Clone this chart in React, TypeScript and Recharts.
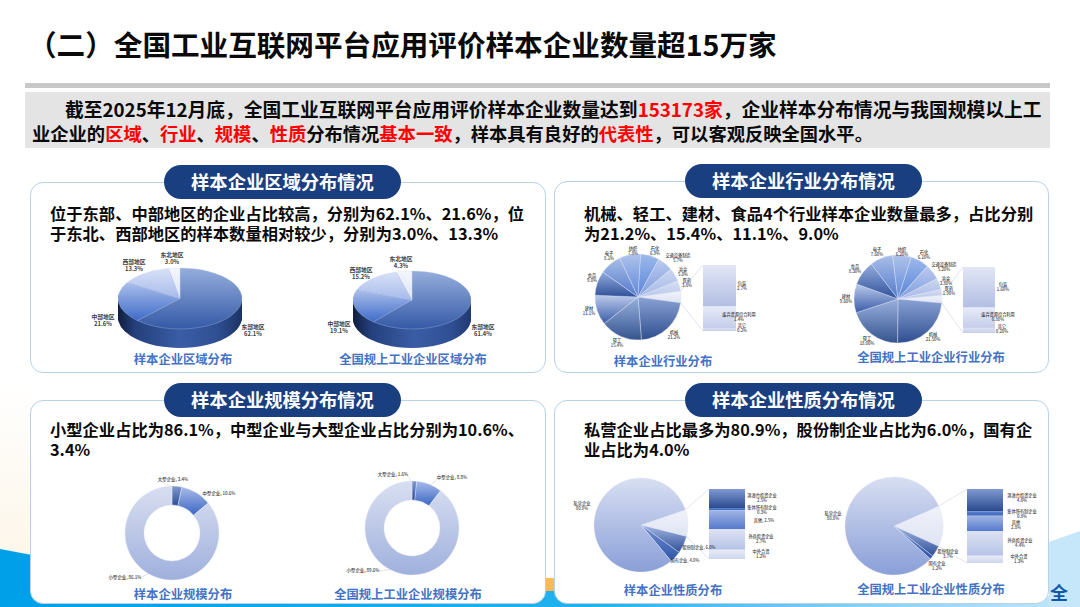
import React from "react";
import { PieChart, Pie, Cell, BarChart, Bar, XAxis, YAxis } from "recharts";

// region cards
const regionNames = ["东部地区", "中部地区", "西部地区", "东北地区"];
const regionSample = [62.1, 21.6, 13.3, 3.0];
const regionNational = [61.4, 19.1, 15.2, 4.3];

// industry cards: the first slice of the pie is broken out into the column
const industryNames = ["机械", "轻工", "建材", "食品", "电子", "纺织", "石化", "交通设备制造", "冶金", "医药"];
const industrySample = [21.2, 15.4, 11.1, 9.0, 8.1, 7.8, 6.9, 5.7, 5.0, 3.8];
const industryNational = [21.5, 18.0, 9.6, 8.3, 7.6, 6.2, 6.1, 5.2, 3.8, 1.9];
const industryRestNames = ["包装", "废弃资源综合利用", "其它"];
const industryRestSample = [2.7, 1.4, 0.2];
const industryRestNational = [1.6, 0.8, 0.2];

// scale cards
const scaleNames = ["大型企业", "中型企业", "小型企业"];
const scaleSample = [3.4, 10.6, 86.1];
const scaleNational = [1.6, 8.8, 89.6];

// ownership cards
const ownerNames = ["股份制企业", "国有企业", "私营企业"];
const ownerSample = [6.0, 4.0, 80.9];
const ownerNational = [3.7, 1.2, 80.8];
const ownerRestNames = ["港澳台投资企业", "集体所有制企业", "其他", "外商投资企业", "中外合资"];
const ownerRestSample = [2.5, 0.3, 2.5, 2.7, 1.2];
const ownerRestNational = [4.0, 0.8, 2.8, 4.4, 1.3];

const FONT = '"Noto Sans CJK SC", "Noto Sans", sans-serif';

const GRADIENTS: [string, string, string][] = [
  ["r0", "#96aedd", "#3459a6"],
  ["r1", "#aabfeb", "#3f6bc8"],
  ["r2", "#d8e1f6", "#a6baeb"],
  ["r3", "#f3f6fd", "#dde5f7"],
  ["i0", "#8aa2d4", "#2f4e90"],
  ["i1", "#9ab1de", "#34548f"],
  ["i2", "#bccbeb", "#3a5ca8"],
  ["i3", "#94acdc", "#2f509a"],
  ["i4", "#a9bee8", "#5179cc"],
  ["i5", "#aec2ea", "#5f87d8"],
  ["i6", "#9db9ec", "#5683d8"],
  ["i7", "#bac9ee", "#809ddf"],
  ["i8", "#ccd6f0", "#a5b8e7"],
  ["i9", "#d6def3", "#b9c7eb"],
  ["other", "#f0f2fa", "#dfe4f3"],
  ["c0", "#e2e6f5", "#b2bee3"],
  ["c1", "#e8ebf7", "#c3cdea"],
  ["c2", "#dde2f3", "#c5cfe9"],
  ["d0", "#8299cf", "#2a4c96"],
  ["d1", "#a8bbe8", "#3c67c4"],
  ["d2", "#d9dff1", "#9fb0dd"],
  ["o0", "#a3b6e2", "#2f4f96"],
  ["o1", "#7390d3", "#2c55a8"],
  ["o2", "#d8dff2", "#8a9fd8"],
  ["n0", "#7f9ad2", "#2a4a8e"],
  ["n1", "#5d83d2", "#3d64b8"],
  ["n2", "#a1b6e5", "#5478cc"],
  ["n3", "#dde2f3", "#b6c3e8"],
  ["n4", "#e8ebf6", "#cdd6ee"],
];
const REGION_FILLS = ["r0", "r1", "r2", "r3"];
const INDUSTRY_FILLS = ["other", "i0", "i1", "i2", "i3", "i4", "i5", "i6", "i7", "i8", "i9"];
const INDUSTRY_COL_FILLS = ["c0", "c1", "c2"];
const SCALE_FILLS = ["d0", "d1", "d2"];
const OWNER_FILLS = ["other", "o0", "o1", "o2"];
const OWNER_COL_FILLS = ["n0", "n1", "n2", "n3", "n4"];

type Spot = [number, number];

const rows = (names: string[], values: number[]) => names.map((name, i) => ({ name, value: values[i] }));
const sum = (a: number[]) => a.reduce((s, v) => s + v, 0);

const Defs = () => (
  <svg width={0} height={0} style={{ position: "absolute" }}>
    <defs>
      {GRADIENTS.map(([id, a, b]) => (
        <linearGradient key={id} id={id} x1="0" y1="0" x2="0" y2="1">
          <stop offset="0%" stopColor={a} />
          <stop offset="100%" stopColor={b} />
        </linearGradient>
      ))}
      <linearGradient id="wall" gradientUnits="userSpaceOnUse" x1={6} y1={0} x2={130} y2={0}>
        <stop offset="0%" stopColor="#101e3e" />
        <stop offset="14%" stopColor="#24407c" />
        <stop offset="50%" stopColor="#3a5da6" />
        <stop offset="80%" stopColor="#2f4f92" />
        <stop offset="100%" stopColor="#1c3264" />
      </linearGradient>
    </defs>
  </svg>
);

// tiny category labels, placed by page coordinates
const Labels = ({ names, values, spots, digits = 1, size = 4.6, inline = [], bold = false }: {
  names: string[]; values: number[]; spots: Spot[]; digits?: number; size?: number; inline?: number[]; bold?: boolean;
}) => (
  <>
    {names.map((n, i) => (
      <div
        key={n}
        style={{
          position: "absolute",
          left: spots[i][0],
          top: spots[i][1],
          transform: "translate(-50%, -50%)",
          fontSize: size,
          lineHeight: 1.25,
          textAlign: "center",
          whiteSpace: "nowrap",
          color: "#404040",
          fontWeight: bold ? 700 : 500,
        }}
      >
        {inline.includes(i) ? `${n}, ${values[i].toFixed(digits)}%` : <>{n}<br />{values[i].toFixed(digits)}%</>}
      </div>
    ))}
  </>
);

const Pie3D = ({ values, cx, cy, rx, ry, depth }: { values: number[]; cx: number; cy: number; rx: number; ry: number; depth: number }) => {
  const s = ry / rx;
  const pad = 6;
  const W = 2 * (rx + pad);
  const H = 2 * (rx + pad) + depth / s;
  const data = rows(regionNames, values);
  const layers = Array.from({ length: Math.ceil(depth) }, (_, i) => (depth - i) / s);
  return (
    <div style={{ position: "absolute", left: cx - rx - pad, top: cy - ry - pad * s, width: W, height: H, transform: `scaleY(${s})`, transformOrigin: "0 0" }}>
      <PieChart width={W} height={H} margin={{ top: 0, right: 0, bottom: 0, left: 0 }}>
        {layers.map((off) => (
          <Pie key={off} data={data} dataKey="value" cx={rx + pad} cy={rx + pad + off} outerRadius={rx} startAngle={90} endAngle={-270} stroke="none" fill="url(#wall)" isAnimationActive={false} />
        ))}
        <Pie data={data} dataKey="value" cx={rx + pad} cy={rx + pad} outerRadius={rx} startAngle={90} endAngle={-270} stroke="#c9d6ef" strokeWidth={0.4} isAnimationActive={false}>
          {REGION_FILLS.map((f) => (
            <Cell key={f} fill={`url(#${f})`} />
          ))}
        </Pie>
      </PieChart>
    </div>
  );
};

const Donut = ({ values, cx, cy, r, inner, spots }: { values: number[]; cx: number; cy: number; r: number; inner: number; spots: Spot[] }) => {
  const data = rows(scaleNames, values);
  const W = 2 * r + 4;
  const total = sum(values);
  let acc = 0;
  const mids = values.map((v) => {
    const m = acc + v / 2;
    acc += v;
    return (m / total) * 2 * Math.PI;
  });
  return (
    <>
      <svg width={1080} height={607} style={{ position: "absolute", left: 0, top: 0 }}>
        {mids.map((a, i) => (
          <line key={i} x1={cx + Math.sin(a) * (r - 4)} y1={cy - Math.cos(a) * (r - 4)} x2={spots[i][0] + (spots[i][0] > cx ? -14 : 14)} y2={spots[i][1]} stroke="#c4c8d4" strokeWidth={0.5} />
        ))}
      </svg>
      <div style={{ position: "absolute", left: cx - W / 2, top: cy - W / 2 }}>
        <PieChart width={W} height={W} margin={{ top: 0, right: 0, bottom: 0, left: 0 }}>
          <Pie data={data} dataKey="value" cx={W / 2} cy={W / 2} innerRadius={inner} outerRadius={r} startAngle={90} endAngle={-270} stroke="#e4e8f4" strokeWidth={0.4} isAnimationActive={false}>
            {SCALE_FILLS.map((f) => (
              <Cell key={f} fill={`url(#${f})`} />
            ))}
          </Pie>
        </PieChart>
      </div>
    </>
  );
};

// pie with its first slice broken out into a stacked column
const PieOfPie = ({ names, values, restValues, fills, colFills, start, cx, cy, r, col }: {
  names: string[]; values: number[]; restValues: number[]; fills: string[]; colFills: string[];
  start: number; cx: number; cy: number; r: number; col: { x: number; y: number; w: number; h: number };
}) => {
  const rest = sum(restValues);
  const data = [{ name: "其他", value: rest }, ...rows(names, values)];
  const total = rest + sum(values);
  const W = 2 * r + 4;
  const a0 = (start * Math.PI) / 180;
  const a1 = ((start - (rest / total) * 360) * Math.PI) / 180;
  const stack = [Object.fromEntries(restValues.map((v, i) => [`s${i}`, v]))];
  return (
    <>
      <svg width={1080} height={607} style={{ position: "absolute", left: 0, top: 0 }}>
        <line x1={cx + Math.cos(a0) * r} y1={cy - Math.sin(a0) * r} x2={col.x} y2={col.y} stroke="#d4d8e6" strokeWidth={0.7} />
        <line x1={cx + Math.cos(a1) * r} y1={cy - Math.sin(a1) * r} x2={col.x} y2={col.y + col.h} stroke="#d4d8e6" strokeWidth={0.7} />
      </svg>
      <div style={{ position: "absolute", left: cx - W / 2, top: cy - W / 2 }}>
        <PieChart width={W} height={W} margin={{ top: 0, right: 0, bottom: 0, left: 0 }}>
          <Pie data={data} dataKey="value" cx={W / 2} cy={W / 2} outerRadius={r} startAngle={start} endAngle={start - 360} stroke="#dfe4f3" strokeWidth={0.4} isAnimationActive={false}>
            {fills.map((f) => (
              <Cell key={f} fill={`url(#${f})`} />
            ))}
          </Pie>
        </PieChart>
      </div>
      <div style={{ position: "absolute", left: col.x, top: col.y }}>
        <BarChart width={col.w} height={col.h} data={stack} margin={{ top: 0, right: 0, bottom: 0, left: 0 }} barCategoryGap={0}>
          <XAxis type="category" hide />
          <YAxis type="number" hide reversed domain={[0, rest]} />
          {restValues.map((_, i) => (
            <Bar key={i} dataKey={`s${i}`} stackId="rest" fill={`url(#${colFills[i]})`} isAnimationActive={false} />
          ))}
        </BarChart>
      </div>
    </>
  );
};

const Card = ({ x, y, w, h, pill, pillX }: { x: number; y: number; w: number; h: number; pill: string; pillX: number }) => (
  <>
    <div style={{ position: "absolute", left: x, top: y, width: w, height: h, boxSizing: "border-box", background: "#fff", border: "1.5px solid #b7d2e8", borderRadius: 13 }} />
    <div style={{ position: "absolute", left: pillX, top: y - 17, width: 237, height: 34, borderRadius: 17, background: "#1a3f80", color: "#fff", fontSize: 18.3, fontWeight: 700, lineHeight: "33px", textAlign: "center" }}>{pill}</div>
  </>
);

const Para = ({ x, y, lines, size = 16.3 }: { x: number; y: number; lines: string[]; size?: number }) => (
  <div style={{ position: "absolute", left: x, top: y, fontSize: size, fontWeight: 700, lineHeight: "19.5px", color: "#0a0a0a", whiteSpace: "nowrap" }}>
    {lines.map((l) => (
      <div key={l}>{l}</div>
    ))}
  </div>
);

const Caption = ({ cx, y, text }: { cx: number; y: number; text: string }) => (
  <div style={{ position: "absolute", left: cx, top: y, transform: "translate(-50%, -50%)", fontSize: 12.3, fontWeight: 700, color: "#4472c4", whiteSpace: "nowrap" }}>{text}</div>
);

const Red = ({ children }: { children: React.ReactNode }) => <span style={{ color: "#ff0000" }}>{children}</span>;

export default function App() {
  return (
    <div style={{ position: "absolute", left: 0, top: 0, width: 1080, height: 607, overflow: "hidden", background: "#fff", fontFamily: FONT }}>
      <Defs />
      {/* background decoration */}
      <svg width={1080} height={607} style={{ position: "absolute", left: 0, top: 0 }}>
        <defs>
          <linearGradient id="cream" x1="0" y1="0" x2="0" y2="1">
            <stop offset="0%" stopColor="#ffffff" />
            <stop offset="100%" stopColor="#fdf6ea" />
          </linearGradient>
          <linearGradient id="floor" x1="0" y1="0" x2="1" y2="0">
            <stop offset="0%" stopColor="#00a0e9" />
            <stop offset="55%" stopColor="#20b2ee" />
            <stop offset="80%" stopColor="#86d0f3" />
            <stop offset="100%" stopColor="#c6e7fa" />
          </linearGradient>
        </defs>
        <rect x={0} y={380} width={32} height={175} fill="url(#cream)" />
        <polygon points="0,549 32,555 32,607 0,607" fill="#00a0e9" />
        <rect x={0} y={596} width={1080} height={11} fill="url(#floor)" />
        <polygon points="1049,542 1080,531 1080,607 1049,607" fill="#c6e7fa" />
        <rect x={540} y={590} width={20} height={17} fill="#1fb0ee" />
        <rect x={545} y={578} width={9} height={13} fill="#fbb957" />
      </svg>

      <div style={{ position: "absolute", left: 28, top: 24, fontSize: 28.6, fontWeight: 700, color: "#0a0a0a", lineHeight: "40px", whiteSpace: "nowrap" }}>
        （二）全国工业互联网平台应用评价样本企业数量超15万家
      </div>
      <div style={{ position: "absolute", left: 25, top: 83, width: 1025, height: 5, background: "#c8c8c8" }} />
      <div style={{ position: "absolute", left: 25, top: 92, width: 1025, height: 56, background: "#e4e4e4" }} />
      <div style={{ position: "absolute", left: 65, top: 97, fontSize: 18.75, fontWeight: 700, lineHeight: "24px", color: "#0a0a0a", whiteSpace: "nowrap" }}>
        截至2025年12月底，全国工业互联网平台应用评价样本企业数量达到<Red>153173家</Red>，企业样本分布情况与我国规模以上工
      </div>
      <div style={{ position: "absolute", left: 32, top: 121, fontSize: 18.3, fontWeight: 700, lineHeight: "24px", color: "#0a0a0a", whiteSpace: "nowrap" }}>
        业企业的<Red>区域</Red>、<Red>行业</Red>、<Red>规模</Red>、<Red>性质</Red>分布情况<Red>基本一致</Red>，样本具有良好的<Red>代表性</Red>，可以客观反映全国水平。
      </div>

      <Card x={30} y={182} w={516} h={191} pill="样本企业区域分布情况" pillX={164} />
      <Card x={554} y={181} w={495} h={192} pill="样本企业行业分布情况" pillX={685} />
      <Card x={30} y={400} w={516} h={204} pill="样本企业规模分布情况" pillX={164} />
      <Card x={554} y={400} w={495} h={204} pill="样本企业性质分布情况" pillX={685} />

      <Para x={50} y={204} lines={["位于东部、中部地区的企业占比较高，分别为62.1%、21.6%，位", "于东北、西部地区的样本数量相对较少，分别为3.0%、13.3%"]} />
      <Para x={584} y={204} lines={["机械、轻工、建材、食品4个行业样本企业数量最多，占比分别", "为21.2%、15.4%、11.1%、9.0%"]} />
      <Para x={50} y={420} lines={["小型企业占比为86.1%，中型企业与大型企业占比分别为10.6%、", "3.4%"]} />
      <Para x={584} y={420} lines={["私营企业占比最多为80.9%，股份制企业占比为6.0%，国有企", "业占比为4.0%"]} />

      {/* region */}
      <Pie3D values={regionSample} cx={180} cy={298} rx={62} ry={30.5} depth={19} />
      <Pie3D values={regionNational} cx={412} cy={300} rx={59} ry={29} depth={19} />
      <Labels names={regionNames} values={regionSample} spots={[[253, 330], [103, 320], [134, 265], [172, 258]]} size={5.8} bold />
      <Labels names={regionNames} values={regionNational} spots={[[483, 330], [339, 327], [361, 273], [401, 262]]} size={5.8} bold />
      <Caption cx={183} y={359} text="样本企业区域分布" />
      <Caption cx={413} y={359} text="全国规上工业企业区域分布" />

      {/* industry */}
      <PieOfPie names={industryNames} values={industrySample} restValues={industryRestSample} fills={INDUSTRY_FILLS} colFills={INDUSTRY_COL_FILLS} start={8} cx={638} cy={297} r={43} col={{ x: 703, y: 265, w: 33, h: 66 }} />
      <PieOfPie names={industryNames} values={industryNational} restValues={industryRestNational} fills={INDUSTRY_FILLS} colFills={INDUSTRY_COL_FILLS} start={5} cx={898} cy={299} r={44} col={{ x: 963, y: 267, w: 32, h: 66 }} />
      <Labels names={industryNames} values={industrySample} size={4.2} spots={[[674, 335], [617, 343], [589, 311], [592, 278], [609, 256], [633, 251], [655, 251], [678, 258], [683, 272], [687, 283]]} />
      <Labels names={industryRestNames} values={industryRestSample} size={4.2} spots={[[742, 286], [739, 317], [742, 328]]} />
      <Labels names={industryNames} values={industryNational} digits={2} size={4.2} spots={[[933, 337], [867, 341], [846, 299], [855, 269], [877, 252], [902, 252], [924, 255], [944, 267], [946, 281], [949, 291]]} />
      <Labels names={industryRestNames} values={industryRestNational} digits={2} size={4.2} spots={[[1003, 287], [998, 317], [1002, 329]]} />
      <Caption cx={663} y={361} text="样本企业行业分布" />
      <Caption cx={931} y={357} text="全国规上工业企业行业分布" />

      {/* scale */}
      <Donut values={scaleSample} cx={172} cy={533} r={47} inner={28} spots={[[173, 480], [219, 494], [125, 578]]} />
      <Donut values={scaleNational} cx={412} cy={528} r={47} inner={28} spots={[[393, 475], [452, 478], [363, 571]]} />
      <Labels names={scaleNames} values={scaleSample} size={4.4} inline={[0, 1, 2]} spots={[[173, 480], [219, 494], [125, 578]]} />
      <Labels names={scaleNames} values={scaleNational} size={4.4} inline={[0, 1, 2]} spots={[[393, 475], [452, 478], [363, 571]]} />
      <Caption cx={183} y={594} text="样本企业规模分布" />
      <Caption cx={408} y={594} text="全国规上工业企业规模分布" />

      {/* ownership */}
      <PieOfPie names={ownerNames} values={ownerSample} restValues={ownerRestSample} fills={OWNER_FILLS} colFills={OWNER_COL_FILLS} start={19} cx={641} cy={525} r={47} col={{ x: 709, y: 489, w: 36, h: 70 }} />
      <PieOfPie names={ownerNames} values={ownerNational} restValues={ownerRestNational} fills={OWNER_FILLS} colFills={OWNER_COL_FILLS} start={24} cx={894} cy={526} r={49} col={{ x: 967, y: 489, w: 36, h: 74 }} />
      <Labels names={ownerNames} values={ownerSample} size={4.2} inline={[0, 1]} spots={[[699, 548], [685, 561], [582, 506]]} />
      <Labels names={ownerRestNames} values={ownerRestSample} size={4.2} inline={[2]} spots={[[762, 498], [762, 510], [764, 521], [761, 539], [761, 554]]} />
      <Labels names={ownerNames} values={ownerNational} size={4.2} spots={[[948, 554], [937, 566], [833, 516]]} />
      <Labels names={ownerRestNames} values={ownerRestNational} size={4.2} spots={[[1022, 498], [1022, 514], [1016, 525], [1020, 543], [1019, 559]]} />
      <Caption cx={673} y={590} text="样本企业性质分布" />
      <Caption cx={931} y={589} text="全国规上工业企业性质分布" />

      <div style={{ position: "absolute", left: 1050, top: 579, fontSize: 18, fontWeight: 700, color: "#0f5aa8", lineHeight: "26px" }}>全</div>
    </div>
  );
}
